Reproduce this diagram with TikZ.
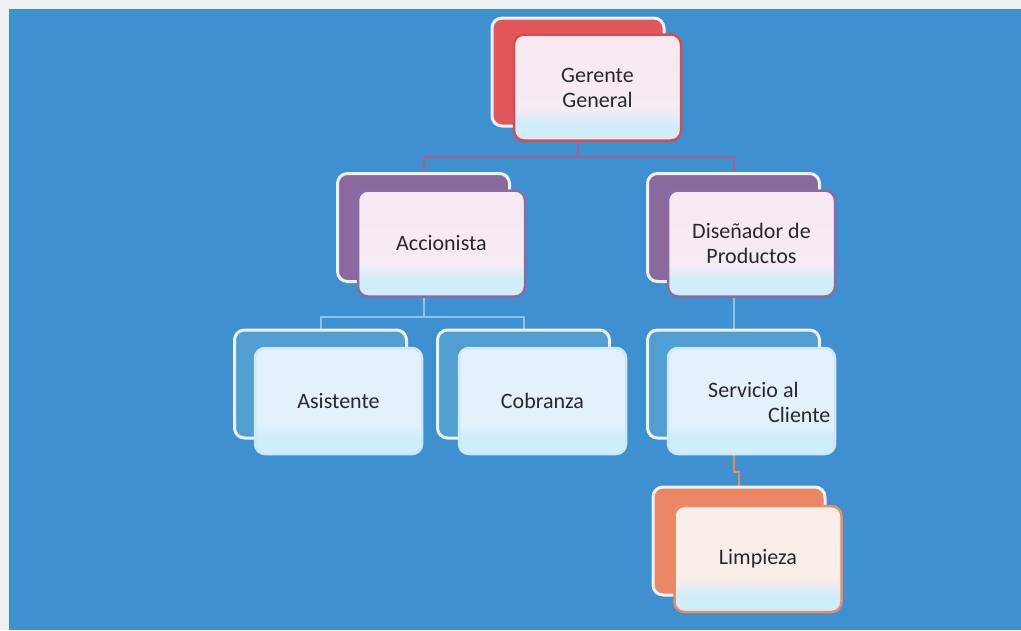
\documentclass[tikz,border=0pt]{standalone}
\usepackage{fontspec}
\setmainfont{Carlito}
\pgfdeclarelayer{canvas}
\pgfdeclarelayer{links}
\pgfsetlayers{canvas,links,main}
\definecolor{bgblue}{RGB}{62,144,208}
\definecolor{margin}{RGB}{238,240,243}
\definecolor{edgewhite}{RGB}{236,242,247}
\definecolor{txt}{RGB}{40,40,46}
\definecolor{redback}{RGB}{226,88,90}
\definecolor{redline}{RGB}{212,78,80}
\definecolor{purpback}{RGB}{138,106,158}
\definecolor{purpline}{RGB}{140,108,160}
\definecolor{blueback}{RGB}{80,158,210}
\definecolor{blueline}{RGB}{205,232,247}
\definecolor{orangeback}{RGB}{234,134,100}
\definecolor{orangeline}{RGB}{232,140,104}
\definecolor{pinktop}{RGB}{247,232,241}
\definecolor{pinkmid}{RGB}{245,236,244}
\definecolor{cyanbot}{RGB}{208,237,250}
\definecolor{paleblue}{RGB}{226,241,250}
\definecolor{peach}{RGB}{249,237,233}
\definecolor{linkred}{RGB}{168,96,140}
\definecolor{linkblue}{RGB}{140,196,232}
\definecolor{linkorange}{RGB}{232,140,90}
\pgfdeclareverticalshading{shpink}{100bp}{color(0bp)=(cyanbot); color(33bp)=(cyanbot); color(40bp)=(pinkmid); color(75bp)=(pinktop); color(100bp)=(pinktop)}
\pgfdeclareverticalshading{shblue}{100bp}{color(0bp)=(cyanbot); color(33bp)=(cyanbot); color(40bp)=(paleblue); color(100bp)=(paleblue)}
\pgfdeclareverticalshading{shpeach}{100bp}{color(0bp)=(cyanbot); color(33bp)=(cyanbot); color(40bp)=(peach); color(100bp)=(peach)}
\begin{document}
\begin{tikzpicture}[x=1pt,y=-1pt,
  backbox/.style={rectangle, rounded corners=10pt, minimum width=172pt, minimum height=108pt,
    inner sep=0pt, line width=3pt, draw=edgewhite},
  frontbox/.style={rectangle, rounded corners=10pt, minimum width=167pt, minimum height=106pt,
    inner sep=3pt, line width=2.5pt, align=center, text=txt,
    font=\fontsize{22}{25}\selectfont},
  pinkfront/.style={frontbox, shading=shpink},
  bluefront/.style={frontbox, shading=shblue, draw=blueline},
  orangefront/.style={frontbox, shading=shpeach, draw=orangeline},
  linkA/.style={draw=linkred, line width=2pt},
  linkB/.style={draw=linkblue, line width=2pt},
  linkC/.style={draw=linkorange, line width=2pt}]
\useasboundingbox (0,0) rectangle (1021,630);
\begin{pgfonlayer}{canvas}
  \fill[margin] (0,0) rectangle (1021,630);
  \fill[bgblue] (9,9) rectangle (1021,630);
\end{pgfonlayer}

% Gerente General
\node[backbox, fill=redback] (gB) at (578,72) {};
\node[pinkfront, draw=redline] (g) at (597.5,87.5) {Gerente\\General};

% Accionista
\node[backbox, fill=purpback] (aB) at (423.5,227.5) {};
\node[pinkfront, draw=purpline] (a) at (441.5,243.5) {Accionista};

% Disenador de Productos
\node[backbox, fill=purpback] (dB) at (733.5,227.5) {};
\node[pinkfront, draw=purpline] (d) at (751.5,243.5) {Diseñador de\\Productos};

% Asistente
\node[backbox, fill=blueback] (asB) at (320.5,384) {};
\node[bluefront] (as) at (338.5,401) {Asistente};

% Cobranza
\node[backbox, fill=blueback] (cB) at (523.5,384) {};
\node[bluefront] (c) at (542.5,401) {Cobranza};

% Servicio al Cliente
\node[backbox, fill=blueback] (sB) at (733.5,384) {};
\node[bluefront] (s) at (751.5,401) {};
\node[text=txt, font=\fontsize{22}{25}\selectfont, align=left, anchor=west, inner sep=0pt]
  (stext) at (708,402) {Servicio al\\\hspace*{60pt}Cliente};

% Limpieza
\node[backbox, fill=orangeback] (lB) at (739,541) {};
\node[orangefront] (l) at (758,559) {Limpieza};

\begin{pgfonlayer}{links}
  \draw[linkA] (gB.south) -- (gB.south |- 0,157) -| (aB.north);
  \draw[linkA] (gB.south |- 0,157) -| (dB.north);
  \draw[linkB] (aB.south) -- (aB.south |- 0,317) -| (asB.north);
  \draw[linkB] (aB.south |- 0,317) -| (cB.north);
  \draw[linkB] (dB.south) -- (sB.north);
  \draw[linkC] (sB.south) -- (sB.south |- 0,472) -| (lB.north);
\end{pgfonlayer}
\end{tikzpicture}
\end{document}
